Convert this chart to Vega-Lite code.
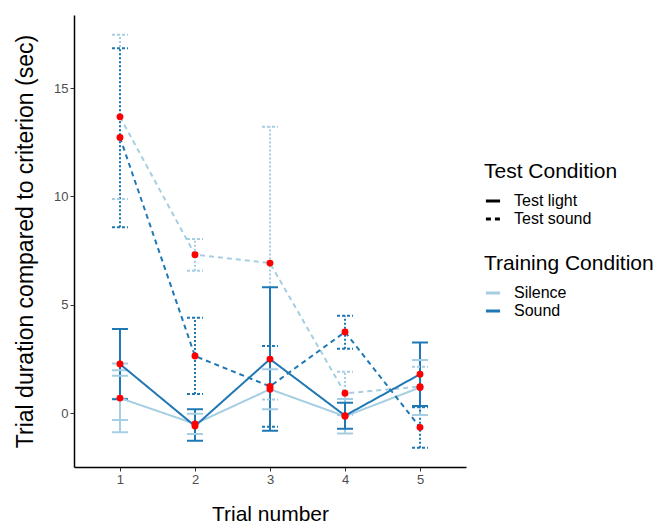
{
  "$schema": "https://vega.github.io/schema/vega-lite/v6.json",
  "width": 392,
  "height": 452,
  "autosize": "none",
  "padding": {"left": 74, "top": 15, "right": 189, "bottom": 58},
  "config": {
    "view": {"stroke": null},
    "font": "Liberation Sans",
    "axis": {"grid": false, "domainColor": "black", "domainWidth": 1.5, "tickColor": "#333333", "tickSize": 4, "labelColor": "#4d4d4d", "labelFontSize": 13, "titleFontSize": 21, "titleFontWeight": "normal", "titleColor": "black", "labelFont": "Liberation Sans", "titleFont": "Liberation Sans"},
    "legend": {"titleFontSize": 21, "titleFontWeight": "normal", "labelFontSize": 16, "titleColor": "black", "labelColor": "black", "labelFont": "Liberation Sans", "titleFont": "Liberation Sans"}
  },
  "datasets": {
    "means": [
      {"trial": 1, "training": "Silence", "test": "Test light", "value": 0.69},
      {"trial": 2, "training": "Silence", "test": "Test light", "value": -0.5},
      {"trial": 3, "training": "Silence", "test": "Test light", "value": 1.1},
      {"trial": 4, "training": "Silence", "test": "Test light", "value": -0.15},
      {"trial": 5, "training": "Silence", "test": "Test light", "value": 1.18},
      {"trial": 1, "training": "Silence", "test": "Test sound", "value": 13.67},
      {"trial": 2, "training": "Silence", "test": "Test sound", "value": 7.31},
      {"trial": 3, "training": "Silence", "test": "Test sound", "value": 6.92},
      {"trial": 4, "training": "Silence", "test": "Test sound", "value": 0.91},
      {"trial": 5, "training": "Silence", "test": "Test sound", "value": 1.22},
      {"trial": 1, "training": "Sound", "test": "Test light", "value": 2.26},
      {"trial": 2, "training": "Sound", "test": "Test light", "value": -0.6},
      {"trial": 3, "training": "Sound", "test": "Test light", "value": 2.49},
      {"trial": 4, "training": "Sound", "test": "Test light", "value": -0.12},
      {"trial": 5, "training": "Sound", "test": "Test light", "value": 1.79},
      {"trial": 1, "training": "Sound", "test": "Test sound", "value": 12.72},
      {"trial": 2, "training": "Sound", "test": "Test sound", "value": 2.63},
      {"trial": 3, "training": "Sound", "test": "Test sound", "value": 1.23},
      {"trial": 4, "training": "Sound", "test": "Test sound", "value": 3.74},
      {"trial": 5, "training": "Sound", "test": "Test sound", "value": -0.66}
    ],
    "bars": [
      {"trial": 1, "training": "Silence", "test": "Test light", "lo": -0.89, "hi": 2.29},
      {"trial": 1, "training": "Silence", "test": "Test light", "lo": -0.32, "hi": 1.72},
      {"trial": 1, "training": "Silence", "test": "Test light", "lo": 0.66, "hi": 1.98},
      {"trial": 2, "training": "Silence", "test": "Test light", "lo": -0.97, "hi": -0.03},
      {"trial": 3, "training": "Silence", "test": "Test light", "lo": 0.17, "hi": 2.02},
      {"trial": 4, "training": "Silence", "test": "Test light", "lo": -0.94, "hi": 0.65},
      {"trial": 5, "training": "Silence", "test": "Test light", "lo": -0.09, "hi": 2.45},
      {"trial": 1, "training": "Silence", "test": "Test sound", "lo": 9.88, "hi": 17.46},
      {"trial": 2, "training": "Silence", "test": "Test sound", "lo": 6.57, "hi": 8.03},
      {"trial": 3, "training": "Silence", "test": "Test sound", "lo": 0.63, "hi": 13.21},
      {"trial": 4, "training": "Silence", "test": "Test sound", "lo": -0.09, "hi": 1.91},
      {"trial": 5, "training": "Silence", "test": "Test sound", "lo": 0.26, "hi": 2.14},
      {"trial": 1, "training": "Sound", "test": "Test light", "lo": 0.64, "hi": 3.88},
      {"trial": 2, "training": "Sound", "test": "Test light", "lo": -1.28, "hi": 0.18},
      {"trial": 3, "training": "Sound", "test": "Test light", "lo": -0.82, "hi": 5.8},
      {"trial": 4, "training": "Sound", "test": "Test light", "lo": -0.72, "hi": 0.48},
      {"trial": 5, "training": "Sound", "test": "Test light", "lo": 0.32, "hi": 3.26},
      {"trial": 1, "training": "Sound", "test": "Test sound", "lo": 8.58, "hi": 16.84},
      {"trial": 2, "training": "Sound", "test": "Test sound", "lo": 0.88, "hi": 4.4},
      {"trial": 3, "training": "Sound", "test": "Test sound", "lo": -0.63, "hi": 3.09},
      {"trial": 4, "training": "Sound", "test": "Test sound", "lo": 2.97, "hi": 4.49},
      {"trial": 5, "training": "Sound", "test": "Test sound", "lo": -1.6, "hi": 0.28}
    ]
  },
  "resolve": {"scale": {"strokeDash": "independent"}},
  "encoding": {
    "x": {"field": "trial", "type": "quantitative", "scale": {"domain": [0.387, 5.613], "nice": false, "zero": false}, "axis": {"values": [1, 2, 3, 4, 5], "format": "d", "title": "Trial number", "titlePadding": 17}}
  },
  "layer": [
    {
      "data": {"name": "bars"},
      "mark": {"type": "rule", "strokeWidth": 2},
      "encoding": {
        "y": {"field": "lo", "type": "quantitative"},
        "y2": {"field": "hi"},
        "color": {"field": "training", "type": "nominal"},
        "strokeDash": {"field": "test", "type": "nominal", "scale": {"domain": ["Test light", "Test sound"], "range": [[1, 0], [2, 2]]}, "legend": null}
      }
    },
    {
      "data": {"name": "bars"},
      "mark": {"type": "rule", "strokeWidth": 2, "xOffset": -8, "x2Offset": 8},
      "encoding": {
        "x2": {"field": "trial"},
        "y": {"field": "lo", "type": "quantitative"},
        "color": {"field": "training", "type": "nominal"},
        "strokeDash": {"field": "test", "type": "nominal", "scale": {"domain": ["Test light", "Test sound"], "range": [[1, 0], [3, 2]]}, "legend": null}
      }
    },
    {
      "data": {"name": "bars"},
      "mark": {"type": "rule", "strokeWidth": 2, "xOffset": -8, "x2Offset": 8},
      "encoding": {
        "x2": {"field": "trial"},
        "y": {"field": "hi", "type": "quantitative"},
        "color": {"field": "training", "type": "nominal"},
        "strokeDash": {"field": "test", "type": "nominal", "scale": {"domain": ["Test light", "Test sound"], "range": [[1, 0], [3, 2]]}, "legend": null}
      }
    },
    {
      "data": {"name": "means"},
      "mark": {"type": "line", "strokeWidth": 2},
      "encoding": {
        "y": {"field": "value", "type": "quantitative", "scale": {"domain": [-2.49, 18.37], "nice": false, "zero": false}, "axis": {"values": [0, 5, 10, 15], "title": "Trial duration compared to criterion (sec)", "titleFontSize": 23, "titlePadding": 16}},
        "color": {"field": "training", "type": "nominal", "title": "Training Condition", "scale": {"domain": ["Silence", "Sound"], "range": ["#a6cee3", "#1f78b4"]}, "legend": {"orient": "none", "legendX": 410, "legendY": 238, "symbolType": "stroke", "symbolSize": 200, "symbolStrokeWidth": 3, "titlePadding": 10, "rowPadding": 1, "labelOffset": 12}},
        "strokeDash": {"field": "test", "type": "nominal", "title": "Test Condition", "scale": {"domain": ["Test light", "Test sound"], "range": [[1, 0], [5, 4]]}, "legend": {"orient": "none", "legendX": 410, "legendY": 146, "symbolType": "stroke", "symbolSize": 200, "symbolStrokeWidth": 3, "symbolStrokeColor": "black", "titlePadding": 10, "rowPadding": 1, "labelOffset": 12}}
      }
    },
    {
      "mark": {"type": "rule", "color": "#00ff00", "strokeWidth": 2},
      "encoding": {"y": {"datum": 0, "type": "quantitative"}}
    },
    {
      "data": {"name": "means"},
      "mark": {"type": "circle", "color": "#ff0000", "opacity": 1, "size": 48},
      "encoding": {
        "y": {"field": "value", "type": "quantitative"}
      }
    }
  ]
}
